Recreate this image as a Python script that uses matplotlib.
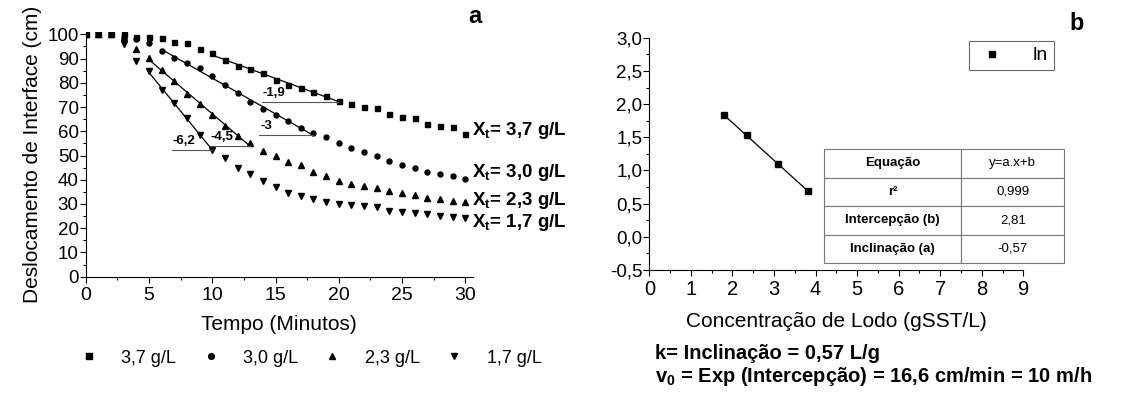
import numpy as np
import matplotlib
matplotlib.use("Agg")
import matplotlib.pyplot as plt
from matplotlib.ticker import MultipleLocator, FuncFormatter
from matplotlib.lines import Line2D

plt.rcParams['font.family'] = ['Liberation Sans', 'DejaVu Sans']
plt.rcParams['mathtext.fontset'] = 'custom'
plt.rcParams['mathtext.rm'] = 'Liberation Sans'
plt.rcParams['mathtext.bf'] = 'Liberation Sans:bold'

# ---- data panel a ----
tempo = list(range(0, 31))
d_37 = [100, 100, 100, 100, 99, 99, 98.5, 97, 96.3, 94, 92.3, 89.5, 87, 85.7, 83.9, 81.3,
        79.2, 77.8, 76.2, 74.4, 72.7, 71.2, 70.2, 69.6, 67.2, 66.1, 65.4, 63.1, 62.3, 61.6, 58.8]
d_30 = [100, 100, 100, 99, 98, 96.4, 93.3, 90.2, 88.2, 86.1, 82.9, 79.2, 76.0, 71.9, 69.2, 66.8,
        64.1, 61.3, 59.3, 57.5, 55.1, 53.3, 51.4, 49.9, 47.8, 45.9, 44.8, 43.4, 42.3, 41.6, 40.2]
d_23 = [100, 100, 100, 99, 94.1, 90.2, 85.4, 80.6, 75.5, 71.4, 66.8, 62.3, 57.9, 55.1, 51.9, 49.6,
        47.5, 45.9, 43.4, 41.7, 39.3, 38.3, 37.5, 36.5, 35.5, 34.7, 33.8, 32.4, 32.0, 31.4, 31.0]
d_17 = [100, 100, 100, 96, 88.8, 84.7, 77.1, 71.7, 65.4, 58.6, 52.4, 48.9, 44.8, 42.4, 39.3, 37.2,
        34.7, 33.3, 32, 31, 30, 29.6, 29.2, 28.7, 27.1, 26.6, 26.2, 25.8, 25.2, 24.5, 24.1]
series = [d_37, d_30, d_23, d_17]
legend_labels = ['3,7 g/L', '3,0 g/L', '2,3 g/L', '1,7 g/L']
xt_labels = ['3,7 g/L', '3,0 g/L', '2,3 g/L', '1,7 g/L']
xt_y = [60.5, 43, 31.5, 22.5]
markers = ['s', 'o', '^', 'v']
msizes = [3.6, 3.6, 4.2, 4.2]
fit_range = [(10, 20), (6, 18), (5, 13), (5, 10)]
slope_labels = ['-1,9', '-3', '-4,5', '-6,2']
hline_start = [13.9, 13.7, 9.8, 6.8]

# ---- data panel b ----
conc = [1.8, 2.35, 3.1, 3.82]
ln_v = [1.83, 1.53, 1.09, 0.69]
table_rows = [['Equação', 'y=a.x+b'], ['r²', '0,999'],
              ['Intercepção (b)', '2,81'], ['Inclinação (a)', '-0,57']]

fig = plt.figure(figsize=(11.24, 3.97), dpi=100)

# ---------------- panel a ----------------
ax = fig.add_axes([0.0762, 0.303, 0.3446, 0.6166])
t = np.array(tempo)
for s, m, ms in zip(series, markers, msizes):
    ax.plot(t, s, ls='none', marker=m, ms=ms, color='black')

# linear fits on the steep part + slope markers
for s, (i0, i1), lab, hx in zip(series, fit_range, slope_labels, hline_start):
    xs = t[i0:i1 + 1]
    ys = np.array(s[i0:i1 + 1])
    k, b = np.polyfit(xs, ys, 1)
    ax.plot([xs[0], xs[-1]], [k * xs[0] + b, k * xs[-1] + b], color='black', lw=0.9)
    yend = k * xs[-1] + b
    ax.plot([hx, xs[-1]], [yend, yend], color='#555555', lw=0.8)
    ax.text(hx + 0.1, yend + 1.2, lab, fontsize=9.5, fontweight='bold', ha='left', va='bottom')

for lab, yy in zip(xt_labels, xt_y):
    ax.text(30.5, yy, r'X$_{\mathbf{t}}$= ' + lab, fontsize=13.5, fontweight='bold',
            ha='left', va='center', clip_on=False)

ax.set_xlim(0, 30.6)
ax.set_ylim(0, 101)
ax.xaxis.set_major_locator(MultipleLocator(5))
ax.xaxis.set_minor_locator(MultipleLocator(2.5))
ax.yaxis.set_major_locator(MultipleLocator(10))
ax.yaxis.set_minor_locator(MultipleLocator(5))
ax.spines['top'].set_visible(False)
ax.spines['right'].set_visible(False)
ax.tick_params(which='major', direction='out', length=4, width=0.8, labelsize=14)
ax.tick_params(which='minor', direction='out', length=2.5, width=0.8)
ax.tick_params(axis='y', labelsize=13.5, pad=1)
ax.set_xlabel('Tempo (Minutos)', fontsize=15, labelpad=8)
ax.set_ylabel('Deslocamento de Interface (cm)', fontsize=15, labelpad=4)

handles = [Line2D([], [], ls='none', marker=m, ms=ms + 0.5, color='black')
           for m, ms in zip(markers, msizes)]
fig.legend(handles, legend_labels, loc='center left', bbox_to_anchor=(0.063, 0.098),
           ncol=4, frameon=False, fontsize=13, handlelength=1.2, handletextpad=1.2,
           columnspacing=1.3, borderaxespad=0)

fig.text(0.4226, 0.958, 'a', fontsize=17, fontweight='bold', ha='center', va='center')

# ---------------- panel b ----------------
ax2 = fig.add_axes([0.5777, 0.3199, 0.3327, 0.585])
ln_line, = ax2.plot(conc, ln_v, ls='none', marker='s', ms=4, color='black')
kk, bb = np.polyfit(conc, ln_v, 1)
xf = np.array([conc[0], conc[-1]])
ax2.plot(xf, kk * xf + bb, color='black', lw=0.9)

ax2.set_xlim(0, 9)
ax2.set_ylim(-0.5, 3.0)
ax2.xaxis.set_major_locator(MultipleLocator(1))
ax2.xaxis.set_minor_locator(MultipleLocator(0.5))
ax2.yaxis.set_major_locator(MultipleLocator(0.5))
ax2.yaxis.set_minor_locator(MultipleLocator(0.25))
ax2.yaxis.set_major_formatter(FuncFormatter(lambda v, p: f'{v:.1f}'.replace('.', ',')))
ax2.spines['top'].set_visible(False)
ax2.spines['right'].set_visible(False)
ax2.tick_params(which='major', direction='out', length=4, width=0.8, labelsize=14.5)
ax2.tick_params(which='minor', direction='out', length=2.5, width=0.8)
ax2.tick_params(axis='y', labelsize=13.5, pad=1)
ax2.set_xlabel('Concentração de Lodo (gSST/L)', fontsize=15, labelpad=9)

leg = fig.legend([ln_line], ['ln'], loc='upper right', bbox_to_anchor=(0.9375, 0.897),
                 fontsize=14, frameon=True, fancybox=False, handlelength=1.8,
                 handletextpad=1.2, borderpad=0.3, borderaxespad=0)
leg.get_frame().set_edgecolor('#444444')
leg.get_frame().set_linewidth(0.8)

tab = ax2.table(cellText=table_rows, colWidths=[0.57, 0.43], cellLoc='center',
                bbox=[0.468, 0.029, 0.642, 0.492])
tab.auto_set_font_size(False)
tab.set_fontsize(9.5)
for (r, c), cell in tab.get_celld().items():
    cell.set_edgecolor('#777777')
    cell.set_linewidth(0.8)
    if c == 0:
        cell.get_text().set_fontweight('bold')

fig.text(0.958, 0.941, 'b', fontsize=17, fontweight='bold', ha='center', va='center')
fig.text(0.583, 0.11, 'k= Inclinação = 0,57 L/g', fontsize=14.5, fontweight='bold',
         ha='left', va='center')
fig.text(0.583, 0.051, r'v$_{\mathbf{0}}$ = Exp (Intercepção) = 16,6 cm/min = 10 m/h',
         fontsize=14.5, fontweight='bold', ha='left', va='center')

fig.savefig('out.png', dpi=100)
